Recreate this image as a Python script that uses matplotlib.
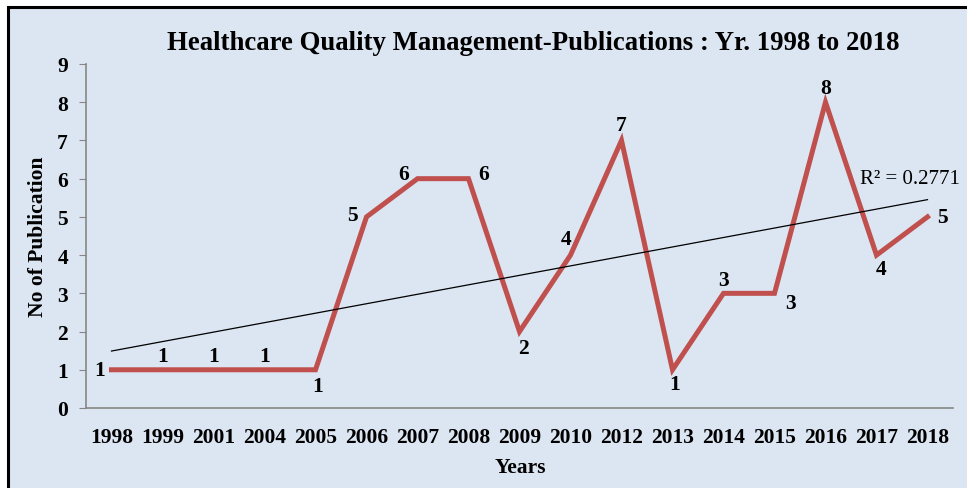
import numpy as np
import matplotlib.pyplot as plt
from matplotlib.patches import Rectangle

years = ['1998', '1999', '2001', '2004', '2005', '2006', '2007', '2008', '2009',
         '2010', '2012', '2013', '2014', '2015', '2016', '2017', '2018']
pubs = [1, 1, 1, 1, 1, 5, 6, 6, 2, 4, 7, 1, 3, 3, 8, 4, 5]
# label offsets in pixels (dx, dy) like the excel label positions
offs = [(-12, 0), (0, 14), (0, 14), (0, 14), (2, -16), (-14, 2), (-14, 5), (15, 5),
        (4, -16), (-4, 16), (0, 15), (2, -14), (0, 13), (16, -10), (0, 14), (5, -14), (15, 0)]

plt.rcParams['font.family'] = ['Liberation Serif', 'DejaVu Serif']
bg = '#dce6f2'
fs = 15.5

fig = plt.figure(figsize=(9.67, 4.89), dpi=100)
fig.patch.set_facecolor('white')
fig.patches.append(Rectangle((8/967, -0.05), 1.05, (489-8)/489 + 0.05, transform=fig.transFigure,
                             facecolor=bg, edgecolor='black', linewidth=2.2, zorder=-1))

ax = fig.add_axes([86/967, (489-409)/489, (953-86)/967, (409-65)/489])
ax.set_facecolor('none')

x = np.arange(len(years))
ax.plot(x, pubs, color='#c0504d', linewidth=3.6, solid_joinstyle='miter', zorder=3)

# linear trend
k, b = np.polyfit(x, pubs, 1)
fit = k*x + b
r2 = 1 - np.sum((np.array(pubs)-fit)**2) / np.sum((np.array(pubs)-np.mean(pubs))**2)
ax.plot(x[[0, -1]], fit[[0, -1]], color='black', linewidth=0.9, zorder=4)
ax.text(x[-1] - 1.33, 6.0, 'R² = %.4f' % r2, fontsize=15, va='center', ha='left')

for i, v in enumerate(pubs):
    ax.annotate(str(v), (x[i], v), xytext=offs[i], textcoords='offset pixels',
                ha='center', va='center', fontsize=fs, fontweight='bold')

ax.set_xlim(-0.5, len(years) - 0.5)
ax.set_ylim(0, 9)
ax.set_yticks(range(10))
ax.set_xticks(x)
ax.set_xticklabels(years)
ax.tick_params(axis='x', length=0, pad=14, labelsize=fs)
ax.tick_params(axis='y', length=5, color='#868686', pad=8, labelsize=fs)
for t in ax.get_xticklabels() + ax.get_yticklabels():
    t.set_fontweight('bold')
for s in ['top', 'right']:
    ax.spines[s].set_visible(False)
for s in ['left', 'bottom']:
    ax.spines[s].set_color('#868686')
    ax.spines[s].set_linewidth(1.2)

fig.text(533/967, 1 - 43/489, 'Healthcare Quality Management-Publications : Yr. 1998 to 2018',
         ha='center', va='center', fontsize=19.3, fontweight='bold')
fig.text(520/967, 1 - 468/489, 'Years', ha='center', va='center', fontsize=fs, fontweight='bold')
fig.text(38/967, 1 - 237/489, 'No of Publication', ha='center', va='center', rotation=90,
         fontsize=fs, fontweight='bold')

fig.savefig('out.png', dpi=100)
